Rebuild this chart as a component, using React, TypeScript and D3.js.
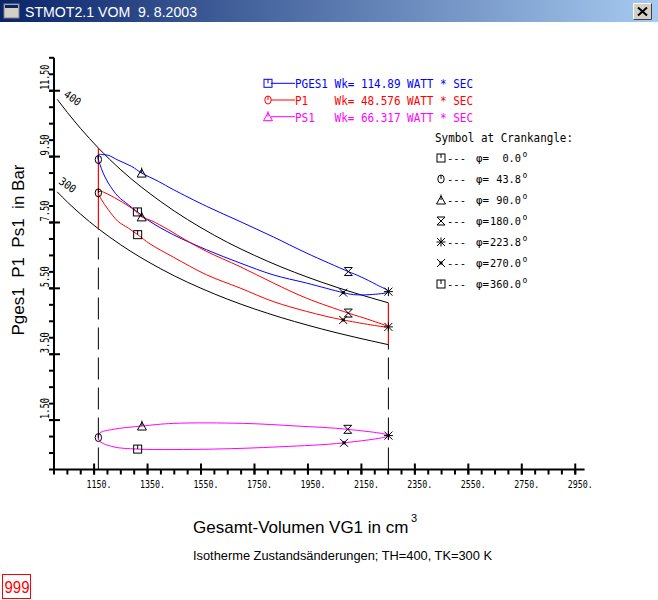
import React from 'react';
import * as d3 from 'd3';

const W = 658;
const H = 600;

// ---- axis definitions ----
const xMajorTicks = [1150, 1350, 1550, 1750, 1950, 2150, 2350, 2550, 2750, 2950];
const xTickLabels = ['1150.', '1350.', '1550.', '1750.', '1950.', '2150.', '2350.', '2550.', '2750.', '2950.'];
const yMajorTicks = [1.5, 3.5, 5.5, 7.5, 9.5, 11.5];
const yTickLabels = ['1.50', '3.50', '5.50', '7.50', '9.50', '11.50'];

// ---- series: cycle volume (cm3) / pressure (bar), starting at crank angle 0 ----
const pgesV = [1312, 1278, 1240, 1203, 1184, 1172, 1166, 1166, 1183, 1203, 1240, 1291, 1328, 1390, 1446, 1571, 1696, 1821, 1945, 2101, 2145, 2207, 2251, 2182, 2120, 2082, 1945, 1820, 1696, 1571, 1446, 1359];
const pgesP = [7.82, 8.04, 8.29, 8.70, 9.00, 9.26, 9.41, 9.56, 9.56, 9.54, 9.39, 9.20, 9.00, 8.75, 8.50, 7.99, 7.53, 7.06, 6.57, 6.01, 5.86, 5.61, 5.40, 5.31, 5.31, 5.37, 5.66, 5.91, 6.27, 6.67, 7.13, 7.53];
const pgesMarks = [0, 6, 12, 19, 22, 25];

const p1V = [1313, 1278, 1240, 1203, 1178, 1166, 1172, 1191, 1240, 1303, 1328, 1366, 1428, 1490, 1571, 1696, 1821, 1945, 2101, 2182, 2251, 2082, 1945, 1820, 1696, 1571, 1446, 1359];
const p1P = [7.13, 7.33, 7.53, 7.89, 8.19, 8.40, 8.45, 8.40, 8.19, 7.86, 7.67, 7.55, 7.28, 6.98, 6.62, 6.16, 5.66, 5.20, 4.75, 4.54, 4.33, 4.54, 4.80, 5.10, 5.51, 5.91, 6.45, 6.85];
const p1Marks = [0, 5, 10, 18, 20, 21];

const ps1V = [1313, 1222, 1172, 1166, 1172, 1222, 1329, 1446, 1708, 1908, 2099, 2251, 2085, 1845, 1596];
const ps1P = [0.62, 0.69, 0.85, 0.97, 1.11, 1.22, 1.32, 1.40, 1.40, 1.32, 1.22, 1.03, 0.81, 0.69, 0.62];
const ps1Marks = [0, 3, 6, 10, 11, 12];

// isotherms
const isoV = [1012, 1050, 1100, 1166, 1250, 1400, 1600, 1800, 2000, 2251];
const iso400P = [11.24, 10.84, 10.35, 9.76, 9.10, 8.13, 7.11, 6.32, 5.69, 5.06];
const iso300P = [8.43, 8.12, 7.75, 7.31, 6.82, 6.09, 5.33, 4.74, 4.27, 3.79];
const vMin = 1166;
const vMax = 2251;

// crank-angle symbol legend
const crankLabels = ['0.0', '43.8', '90.0', '180.0', '223.8', '270.0', '360.0'];
const crankKinds = ['sq', 'circ', 'tri', 'hour', 'star', 'boxx', 'sq'];

// work legend
const legendNames = ['PGES1', 'P1   ', 'PS1  '];
const legendWk = ['114.89', '48.576', '66.317'];
const legendColors = ['#0000ff', '#ff0000', '#ff00ff'];
const legendKinds = ['sq', 'circ', 'tri'];

const MONO = '"DejaVu Sans Mono", "Liberation Mono", monospace';
const SANS = '"Liberation Sans", Arial, sans-serif';

const x = d3.scaleLinear().domain([1000, 2985]).range([54, 584.6]);
const y = d3.scaleLinear().domain([0, 12.5]).range([469.5, 57.8]);

function Marker({ kind, cx, cy, color = '#000' }: { kind: string; cx: number; cy: number; color?: string }) {
  const s = 4;
  const common = { fill: 'none', stroke: color, strokeWidth: 1 };
  let el: React.ReactNode = null;
  if (kind === 'sq') {
    el = (
      <g>
        <rect x={-s} y={-s} width={2 * s} height={2 * s} {...common} />
        <line x1={0} y1={-s} x2={0} y2={0} {...common} />
      </g>
    );
  } else if (kind === 'circ') {
    el = (
      <g>
        <ellipse rx={s - 0.8} ry={s} {...common} />
        <line x1={0} y1={-s} x2={0} y2={0} {...common} />
      </g>
    );
  } else if (kind === 'tri') {
    el = (
      <g>
        <path d={`M${-s - 0.5},${s} L${s + 0.5},${s} L0,${-s} Z`} {...common} />
        <line x1={0} y1={-s - 1.5} x2={0} y2={0} {...common} />
      </g>
    );
  } else if (kind === 'hour') {
    el = <path d={`M${-s},${-s} L${s},${-s} L${-s},${s} L${s},${s} Z`} {...common} />;
  } else if (kind === 'star') {
    el = (
      <g>
        <line x1={0} y1={-s - 0.5} x2={0} y2={s + 0.5} {...common} />
        <line x1={-s} y1={-s} x2={s} y2={s} {...common} />
        <line x1={-s} y1={s} x2={s} y2={-s} {...common} />
        <line x1={-s - 0.5} y1={0} x2={s + 0.5} y2={0} {...common} />
      </g>
    );
  } else if (kind === 'boxx') {
    el = (
      <g>
        <line x1={-s} y1={-s} x2={s} y2={s} {...common} />
        <line x1={-s} y1={s} x2={s} y2={-s} {...common} />
        <rect x={-1.5} y={-1.5} width={3} height={3} fill={color} />
      </g>
    );
  }
  return <g transform={`translate(${cx},${cy})`}>{el}</g>;
}

const loopLine = d3
  .line<[number, number]>()
  .x((d) => x(d[0]))
  .y((d) => y(d[1]))
  .curve(d3.curveCatmullRomClosed.alpha(0.5));

const isoLine = d3
  .line<[number, number]>()
  .x((d) => x(d[0]))
  .y((d) => y(d[1]))
  .curve(d3.curveMonotoneX);

function zip(a: number[], b: number[]): [number, number][] {
  return a.map((v, i) => [v, b[i]] as [number, number]);
}

const seriesDefs = [
  { V: pgesV, P: pgesP, marks: pgesMarks, color: '#0000ff' },
  { V: p1V, P: p1P, marks: p1Marks, color: '#ff0000' },
  { V: ps1V, P: ps1P, marks: ps1Marks, color: '#ff00ff' },
];

export default function App() {
  const xMinor = d3.range(1000, 2951, 50);
  const yMinor = d3.range(0, 12.51, 0.5);
  const axisY = y(0);
  const axisX = x(1000);

  const iso400 = zip(isoV, iso400P);
  const iso300 = zip(isoV, iso300P);

  const rowY = (i: number) => 158 + i * 21;

  return (
    <svg
      width={W}
      height={H}
      viewBox={`0 0 ${W} ${H}`}
      style={{ position: 'absolute', left: 0, top: 0, background: '#fff' }}
    >
      <defs>
        <linearGradient id="tbar" x1="0" x2="1" y1="0" y2="0">
          <stop offset="0" stopColor="#0a246a" />
          <stop offset="1" stopColor="#a6caf0" />
        </linearGradient>
      </defs>
      <rect x={0} y={0} width={W} height={H} fill="#fff" />

      {/* window title bar */}
      <rect x={0} y={0} width={W} height={22} fill="url(#tbar)" />
      <g>
        <rect x={4} y={4} width={15} height={14} fill="#d4d0c8" stroke="#808080" />
        <rect x={5} y={5} width={13} height={3} fill="#0a246a" />
      </g>
      <text
        x={25}
        y={17}
        fill="#fff"
        fontFamily={SANS}
        fontSize={14.5}
        style={{ whiteSpace: 'pre' }}
        textLength={172}
        lengthAdjust="spacingAndGlyphs"
      >
        {'STMOT2.1 VOM  9. 8.2003'}
      </text>
      <g>
        <rect x={633} y={3} width={19} height={17} fill="#d4d0c8" />
        <path d="M633.5,19.5 V3.5 H651.5" stroke="#fff" fill="none" />
        <path d="M633.5,19.5 H651.5 V3.5" stroke="#404040" fill="none" />
        <path d="M638,7.5 L647,15.5 M647,7.5 L638,15.5" stroke="#000" strokeWidth={2} />
      </g>

      {/* isotherms */}
      <path d={isoLine(iso400) || ''} fill="none" stroke="#000" strokeWidth={1} />
      <path d={isoLine(iso300) || ''} fill="none" stroke="#000" strokeWidth={1} />
      <text x={63} y={96} fontFamily={MONO} fontSize={11} transform="rotate(35 63 96)" textLength={18} lengthAdjust="spacingAndGlyphs">
        400
      </text>
      <text x={58} y={183} fontFamily={MONO} fontSize={11} transform="rotate(35 58 183)" textLength={18} lengthAdjust="spacingAndGlyphs">
        300
      </text>

      {/* isochores of ideal cycle */}
      <line x1={x(vMin)} x2={x(vMin)} y1={y(iso400P[3])} y2={y(iso300P[3])} stroke="#ff0000" strokeWidth={1.2} />
      <line x1={x(vMax)} x2={x(vMax)} y1={y(iso400P[9])} y2={y(iso300P[9])} stroke="#ff0000" strokeWidth={1.2} />

      {/* dead-centre dashed lines */}
      <line x1={x(vMin)} x2={x(vMin)} y1={axisY} y2={y(iso300P[3])} stroke="#000" strokeWidth={1} strokeDasharray="22 8" />
      <line x1={x(vMax)} x2={x(vMax)} y1={axisY} y2={y(iso300P[9])} stroke="#000" strokeWidth={1} strokeDasharray="22 8" />

      {/* cycle loops */}
      {seriesDefs.map((s, i) => (
        <path key={i} d={loopLine(zip(s.V, s.P)) || ''} fill="none" stroke={s.color} strokeWidth={1} />
      ))}
      {seriesDefs.map((s, i) =>
        s.marks.map((mi, k) => (
          <Marker key={`${i}-${k}`} kind={crankKinds[k]} cx={x(s.V[mi])} cy={y(s.P[mi])} />
        ))
      )}

      {/* axes */}
      <line x1={axisX} x2={x(2985)} y1={axisY} y2={axisY} stroke="#000" strokeWidth={2} />
      <line x1={axisX} x2={axisX} y1={axisY} y2={y(12.5)} stroke="#000" strokeWidth={2} />
      {xMinor.map((t) => (
        <line key={`xm${t}`} x1={x(t)} x2={x(t)} y1={axisY} y2={axisY + 5} stroke="#000" strokeWidth={2} />
      ))}
      {xMajorTicks.map((t) => (
        <line key={`xM${t}`} x1={x(t)} x2={x(t)} y1={axisY - 6} y2={axisY + 5} stroke="#000" strokeWidth={2} />
      ))}
      {xMajorTicks.map((t, i) => (
        <text
          key={`xl${t}`}
          x={x(t) - 7.5}
          y={488}
          fontFamily={MONO}
          fontSize={11}
          textLength={25}
          lengthAdjust="spacingAndGlyphs"
        >
          {xTickLabels[i]}
        </text>
      ))}
      {yMinor.map((t) => (
        <line key={`ym${t}`} x1={axisX - 5} x2={axisX} y1={y(t)} y2={y(t)} stroke="#000" strokeWidth={2} />
      ))}
      {yMajorTicks.map((t) => (
        <line key={`yM${t}`} x1={axisX - 5} x2={axisX + 6} y1={y(t)} y2={y(t)} stroke="#000" strokeWidth={2} />
      ))}
      {yMajorTicks.map((t, i) => {
        const ty = y(t) - 1;
        const lab = yTickLabels[i];
        return (
          <text
            key={`yl${t}`}
            x={49}
            y={ty}
            transform={`rotate(-90 49 ${ty})`}
            fontFamily={MONO}
            fontSize={12}
            textLength={lab.length === 5 ? 25 : 21}
            lengthAdjust="spacingAndGlyphs"
          >
            {lab}
          </text>
        );
      })}

      {/* axis titles */}
      <text
        x={24}
        y={250}
        transform="rotate(-90 24 250)"
        textAnchor="middle"
        fontFamily={SANS}
        fontSize={17}
        style={{ whiteSpace: 'pre' }}
      >
        {'Pges1  P1  Ps1  in Bar'}
      </text>
      <text x={193} y={533} fontFamily={SANS} fontSize={17}>
        Gesamt-Volumen VG1 in cm
      </text>
      <text x={411} y={522} fontFamily={SANS} fontSize={11}>
        3
      </text>
      <text x={193} y={560} fontFamily={SANS} fontSize={12.5} textLength={299} lengthAdjust="spacingAndGlyphs">
        Isotherme Zustandsänderungen; TH=400, TK=300 K
      </text>

      {/* work legend */}
      {legendNames.map((n, i) => {
        const ly = 83.3 + i * 16.7;
        return (
          <g key={`lg${i}`}>
            <line x1={271} x2={295} y1={ly} y2={ly} stroke={legendColors[i]} strokeWidth={1} />
            <Marker kind={legendKinds[i]} cx={268} cy={ly} color={legendColors[i]} />
            <text
              x={295}
              y={ly + 5}
              fill={legendColors[i]}
              fontFamily={MONO}
              fontSize={13}
              style={{ whiteSpace: 'pre' }}
              textLength={178}
              lengthAdjust="spacingAndGlyphs"
            >
              {`${n} Wk= ${legendWk[i]} WATT * SEC`}
            </text>
          </g>
        );
      })}

      {/* crank-angle symbol legend */}
      <text x={435} y={142} fontFamily={MONO} fontSize={12} textLength={138} lengthAdjust="spacingAndGlyphs">
        Symbol at Crankangle:
      </text>
      {crankLabels.map((lab, i) => {
        const ry = rowY(i);
        return (
          <g key={`cr${i}`}>
            <Marker kind={crankKinds[i]} cx={441} cy={ry} />
            <text x={447} y={ry + 4} fontFamily={MONO} fontSize={11} textLength={19} lengthAdjust="spacingAndGlyphs">
              ---
            </text>
            <text x={476} y={ry + 4} fontFamily={MONO} fontSize={11} textLength={13} lengthAdjust="spacingAndGlyphs">
              φ=
            </text>
            <text
              x={521}
              y={ry + 4}
              textAnchor="end"
              fontFamily={MONO}
              fontSize={11}
              textLength={lab.length * 6.2}
              lengthAdjust="spacingAndGlyphs"
            >
              {lab}
            </text>
            <text x={522.5} y={ry - 1} fontFamily={MONO} fontSize={8}>
              o
            </text>
          </g>
        );
      })}

      {/* 999 box */}
      <rect x={2.5} y={574.5} width={28} height={24} fill="none" stroke="#ff0000" strokeWidth={1} />
      <text x={4.5} y={593} fill="#ff0000" fontFamily={SANS} fontSize={16} textLength={25} lengthAdjust="spacingAndGlyphs">
        999
      </text>
    </svg>
  );
}
